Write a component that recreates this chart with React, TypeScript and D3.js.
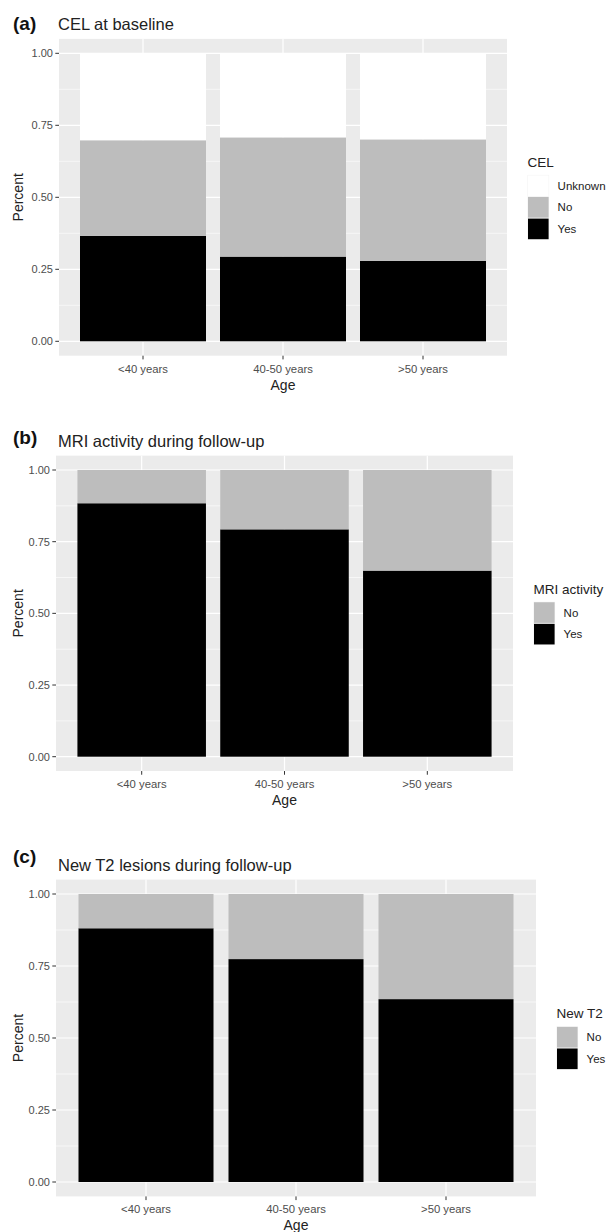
import React from "react";
import * as d3 from "d3";

// age groups on the x axis
const ages = ["<40 years", "40-50 years", ">50 years"];

// (a) CEL at baseline
const celYes = [0.366, 0.294, 0.279];
const celNo = [0.332, 0.414, 0.422];
const celUnknown = [0.302, 0.292, 0.299];

// (b) MRI activity during follow-up
const mriYes = [0.884, 0.793, 0.649];
const mriNo = [0.116, 0.207, 0.351];

// (c) New T2 lesions during follow-up
const t2Yes = [0.881, 0.774, 0.635];
const t2No = [0.119, 0.226, 0.365];

const yTicks = [0, 0.25, 0.5, 0.75, 1];
const yMinor = [0.125, 0.375, 0.625, 0.875];

const FILL: Record<string, string> = { Yes: "#000000", No: "#bdbdbd", Unknown: "#ffffff" };
const FONT = "'Liberation Sans', Arial, sans-serif";

type Series = { key: string; values: number[] };

function Panel({ tag, title, legendTitle, series, left, right, y1, y0, tagDy = 0 }: {
  tag: string; title: string; legendTitle: string; series: Series[];
  left: number; right: number; y1: number; y0: number; tagDy?: number;
}) {
  const x = d3.scaleBand<string>().domain(ages).range([left, right])
    .paddingInner(0.1).paddingOuter(0.15);
  const y = d3.scaleLinear().domain([0, 1]).range([y0, y1]);
  const top = y(1.05), bottom = y(-0.05);

  const rows = ages.map((a, i) => {
    const r: Record<string, any> = { age: a };
    series.forEach(s => (r[s.key] = s.values[i]));
    return r;
  });
  const stacked = d3.stack<any>().keys(series.map(s => s.key))(rows);

  // legend lists top series first
  const legendItems = series.map(s => s.key).slice().reverse();
  const keySize = 21.6;
  const blockH = 20 + legendItems.length * keySize;
  const center = (top + bottom) / 2;
  const legTop = center - blockH / 2;
  const legX = right + 20.5;

  return (
    <g fontFamily={FONT}>
      <text x={13} y={top - 15 + tagDy} dominantBaseline="central" fontSize={19} fontWeight="bold" fill="#111">{tag}</text>
      <text x={58} y={top - 15} dominantBaseline="central" fontSize={16.5} fill="#222">{title}</text>

      <rect x={left} y={top} width={right - left} height={bottom - top} fill="#ebebeb" />
      {yMinor.map(t => (
        <line key={"m" + t} x1={left} x2={right} y1={y(t)} y2={y(t)} stroke="#fff" strokeWidth={0.6} />
      ))}
      {yTicks.map(t => (
        <line key={"g" + t} x1={left} x2={right} y1={y(t)} y2={y(t)} stroke="#fff" strokeWidth={1.2} />
      ))}
      {ages.map(a => (
        <line key={"v" + a} x1={x(a)! + x.bandwidth() / 2} x2={x(a)! + x.bandwidth() / 2} y1={top} y2={bottom} stroke="#fff" strokeWidth={1.2} />
      ))}

      {stacked.map(layer => (
        <g key={layer.key}>
          {layer.map((d: any) => (
            <rect key={d.data.age} x={x(d.data.age)} width={x.bandwidth()}
              y={y(d[1])} height={y(d[0]) - y(d[1])} fill={FILL[layer.key]} />
          ))}
        </g>
      ))}

      {/* y axis */}
      {yTicks.map(t => (
        <g key={"yt" + t}>
          <line x1={left - 3.7} x2={left} y1={y(t)} y2={y(t)} stroke="#333" strokeWidth={1} />
          <text x={left - 6} y={y(t)} textAnchor="end" dominantBaseline="central" fontSize={11} fill="#4d4d4d">{t.toFixed(2)}</text>
        </g>
      ))}
      <text transform={`translate(18,${(top + bottom) / 2}) rotate(-90)`} textAnchor="middle" dominantBaseline="central" fontSize={14} fill="#222">Percent</text>

      {/* x axis */}
      {ages.map(a => {
        const cx = x(a)! + x.bandwidth() / 2;
        return (
          <g key={"xt" + a}>
            <line x1={cx} x2={cx} y1={bottom} y2={bottom + 3.7} stroke="#333" strokeWidth={1} />
            <text x={cx} y={bottom + 13} textAnchor="middle" dominantBaseline="central" fontSize={11.3} fill="#4d4d4d">{a}</text>
          </g>
        );
      })}
      <text x={(left + right) / 2} y={bottom + 29} textAnchor="middle" dominantBaseline="central" fontSize={14} fill="#222">Age</text>

      {/* legend */}
      <text x={legX} y={legTop + 7.4} dominantBaseline="central" fontSize={13.5} fill="#222">{legendTitle}</text>
      {legendItems.map((k, i) => (
        <g key={"l" + k}>
          <rect x={legX} y={legTop + 20 + i * keySize} width={keySize} height={keySize} fill="#f2f2f2" />
          <rect x={legX + 0.5} y={legTop + 20.5 + i * keySize} width={keySize - 1} height={keySize - 1} fill={FILL[k]} />
          <text x={legX + keySize + 8.5} y={legTop + 20 + i * keySize + keySize / 2} dominantBaseline="central" fontSize={11.5} fill="#222">{k}</text>
        </g>
      ))}
    </g>
  );
}

export default function App() {
  return (
    <svg width={608} height={1232} style={{ position: "absolute", left: 0, top: 0, background: "#fff" }}>
      <Panel tag="(a)" title="CEL at baseline" legendTitle="CEL"
        series={[{ key: "Yes", values: celYes }, { key: "No", values: celNo }, { key: "Unknown", values: celUnknown }]}
        left={59} right={507} y1={53.3} y0={341.3} />
      <Panel tag="(b)" title="MRI activity during follow-up" legendTitle="MRI activity"
        series={[{ key: "Yes", values: mriYes }, { key: "No", values: mriNo }]}
        left={56} right={513} y1={470} y0={756.7} tagDy={-3} />
      <Panel tag="(c)" title="New T2 lesions during follow-up" legendTitle="New T2"
        series={[{ key: "Yes", values: t2Yes }, { key: "No", values: t2No }]}
        left={56} right={536} y1={894} y0={1182} tagDy={-8} />
    </svg>
  );
}
